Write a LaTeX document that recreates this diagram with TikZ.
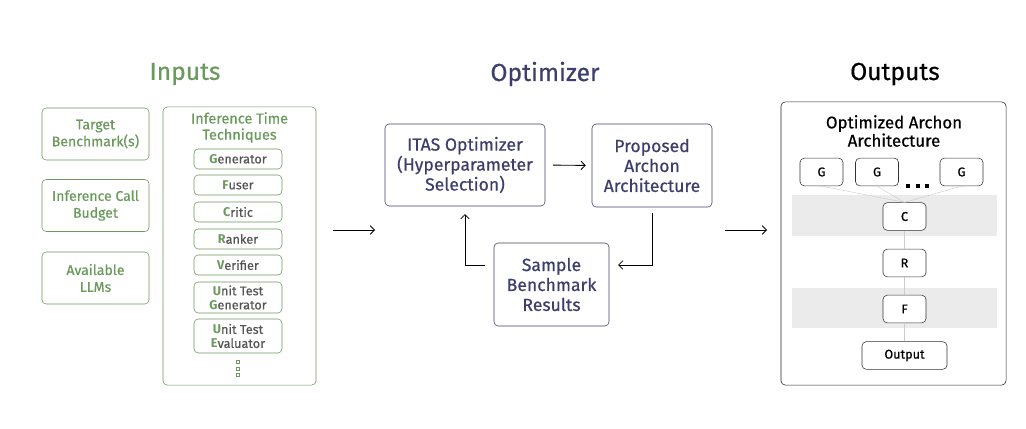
\documentclass[tikz,border=0pt]{standalone}
\usepackage{fontspec}
\setmainfont{Fira Sans}[UprightFeatures={FakeBold=0.6}]
\usetikzlibrary{positioning,arrows.meta}
\definecolor{inpgreen}{HTML}{6A9A5C}
\definecolor{optblue}{HTML}{3E3E6E}
\definecolor{txtgray}{HTML}{555555}
\definecolor{bandgray}{HTML}{EBEBEB}
\newcommand{\firstl}[2]{{\color{inpgreen}\bfseries #1}#2}
\tikzset{
  inbox/.style={draw=inpgreen, rounded corners=3pt, text=inpgreen, align=center,
    font=\fontsize{10}{12}\selectfont, minimum width=2.675cm, minimum height=1.3cm, inner sep=1pt},
  techbox/.style={draw=inpgreen, rounded corners=3pt, text=txtgray, align=center,
    font=\fontsize{9}{10}\selectfont, minimum width=2.2cm, inner sep=1pt},
  optbox/.style={draw=optblue, rounded corners=3pt, text=optblue, align=center,
    font=\fontsize{12.5}{14.2}\selectfont, inner sep=1pt},
  archbox/.style={draw=black!80, rounded corners=3pt, align=center,
    font=\fontsize{9}{10}\selectfont, minimum width=1.075cm, minimum height=0.69cm, inner sep=1pt},
  grouptitle/.style={font=\fontsize{17.5}{21}\selectfont},
  flow/.style={-{Straight Barb[length=3pt,width=6pt]}, line width=0.6pt},
  link/.style={draw=black!20, line width=0.3pt}
}
\begin{document}
\begin{tikzpicture}[x=0.025cm, y=-0.025cm]
    \useasboundingbox (0,0) rectangle (1026,428);

    % Inputs
    \node[grouptitle, text=inpgreen] (intitle) at (185,74) {Inputs};
    \node[inbox] (target) at (95.5,134) {Target\\Benchmark(s)};
    \node[inbox] (budget) at (95.5,205.5) {Inference Call\\Budget};
    \node[inbox] (llms) at (95.5,278) {Available\\LLMs};
    \node[draw=inpgreen, rounded corners=3pt, minimum width=3.825cm, minimum height=6.95cm] (techs) at (239.5,246) {};
    \node[text=inpgreen, align=center, font=\fontsize{10.3}{11.5}\selectfont] (techtitle) at (239.5,127.5) {Inference Time\\Techniques};
    \node[techbox, minimum height=0.5cm] (gen) at (238,159) {\firstl{G}{enerator}};
    \node[techbox, minimum height=0.5cm] (fus) at (238,185) {\firstl{F}{user}};
    \node[techbox, minimum height=0.5cm] (cri) at (238,212) {\firstl{C}{ritic}};
    \node[techbox, minimum height=0.5cm] (ran) at (238,239) {\firstl{R}{anker}};
    \node[techbox, minimum height=0.5cm] (ver) at (238,265) {\firstl{V}{erifier}};
    \node[techbox, minimum height=0.775cm] (utg) at (238,297.5) {\firstl{U}{nit Test}\\\firstl{G}{enerator}};
    \node[techbox, minimum height=0.85cm] (ute) at (238,336) {\firstl{U}{nit Test}\\\firstl{E}{valuator}};
    \foreach \y in {362,368.5,375}
        \draw[inpgreen, line width=0.4pt] (236.5,\y-1.5) rectangle (239.5,\y+1.5);

    % Optimizer
    \node[grouptitle, text=optblue] (opttitle) at (545,74) {Optimizer};
    \node[optbox, minimum width=4cm, minimum height=2.05cm] (itas) at (465,165) {ITAS Optimizer\\(Hyperparameter\\Selection)};
    \node[optbox, minimum width=3cm, minimum height=2.075cm] (prop) at (652,165.5) {Proposed\\Archon\\Architecture};
    \node[optbox, minimum width=2.875cm, minimum height=2.075cm] (samp) at (551.5,284.5) {Sample\\Benchmark\\Results};
    \coordinate (sampin) at (618,265);
    \coordinate (sampout) at (485,265);
    \draw[flow, shorten <=5.6pt, shorten >=4.2pt] (itas.east) -- (prop.east -| prop.west);
    \draw[flow, shorten <=4pt] (prop.south) |- (sampin);
    \draw[flow, shorten >=5.5pt] (sampout) -| (itas.south);

    % between groups
    \coordinate (a1) at (333,230);
    \coordinate (a2) at (375,230);
    \coordinate (b1) at (725,230);
    \coordinate (b2) at (767,230);
    \draw[flow] (a1) -- (a2);
    \draw[flow] (b1) -- (b2);

    % Outputs
    \node[grouptitle] (outtitle) at (895,74) {Outputs};
    \node[draw=black!85, rounded corners=3pt, minimum width=5.625cm, minimum height=7.075cm] (arch) at (893.5,243.5) {};
    \node[align=center, font=\fontsize{12}{13}\selectfont] (archtitle) at (894,131) {Optimized Archon\\Architecture};
    \fill[bandgray] (792,195) rectangle (997,236);
    \fill[bandgray] (792,288) rectangle (997,328);
    \node[archbox] (g1) at (821.5,172) {G};
    \node[archbox] (g2) at (877,172) {G};
    \node[archbox] (g3) at (961.5,172) {G};
    \foreach \x in {908,917.5,927}
        \fill (\x-2,184) rectangle (\x+2,188);
    \node[archbox, fill=white] (c) at (904.5,216.5) {C};
    \node[archbox] (r) at (904.5,263) {R};
    \node[archbox, fill=white] (f) at (904.5,309) {F};
    \node[archbox, minimum width=2.125cm] (out) at (904.5,355.5) {Output};
    \draw[link] (g1.south) -- (c.north);
    \draw[link] (g2.south) -- (c.north);
    \draw[link] (g3.south) -- (c.north);
    \draw[link] (c) -- (r);
    \draw[link] (r) -- (f);
    \draw[link] (f) -- (out);
\end{tikzpicture}
\end{document}
